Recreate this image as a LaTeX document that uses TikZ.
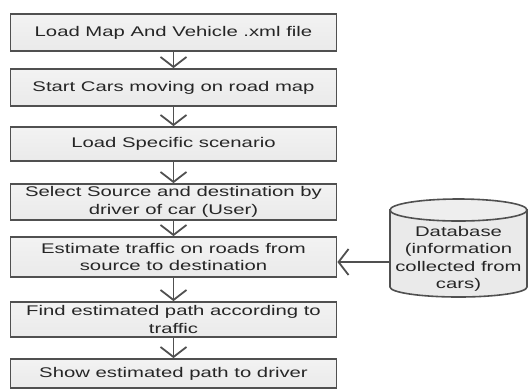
\documentclass[tikz,border=0pt]{standalone}
\usepackage{fontspec}
\setmainfont[FakeStretch=1.45]{Liberation Sans}
\usetikzlibrary{arrows.meta}
\definecolor{boxline}{HTML}{505050}
\definecolor{boxfill}{HTML}{EAEAEA}
\definecolor{txt}{HTML}{262626}
\begin{document}
\begin{tikzpicture}[x=1pt,y=-1pt,
  stepbox/.style={draw=boxline, line width=1.8pt, top color=boxfill!60, bottom color=boxfill, rectangle,
    minimum width=326pt, inner sep=0pt, align=center, text=txt,
    font=\fontsize{14pt}{17.5pt}\selectfont},
  flow/.style={draw=boxline, line width=1.8pt, -{Straight Barb[length=10pt, width=26pt, line width=1.8pt]}}
]
\useasboundingbox (0,0) rectangle (529,389);
\node[stepbox, minimum height=37pt] (b1) at (173.5,32.5) {Load Map And Vehicle .xml file};
\node[stepbox, minimum height=37pt] (b2) at (173.5,87.5) {Start Cars moving on road map};
\node[stepbox, minimum height=34pt] (b3) at (173.5,144) {Load Specific scenario};
\node[stepbox, minimum height=36pt] (b4) at (173.5,202) {Select Source and destination by\\driver of car (User)};
\node[stepbox, minimum height=40pt] (b5) at (173.5,257) {Estimate traffic on roads from\\source to destination};
\node[stepbox, minimum height=35pt] (b6) at (173.5,319.5) {Find estimated path according to\\traffic};
\node[stepbox, minimum height=29pt] (b7) at (173.5,373.5) {Show estimated path to driver};
\draw[flow] (b1) -- (b2);
\draw[flow] (b2) -- (b3);
\draw[flow] (b3) -- (b4);
\draw[flow] (b4) -- (b5);
\draw[flow] (b5) -- (b6);
\draw[flow] (b6) -- (b7);
% database cylinder
\draw[draw=boxline, line width=1.6pt, fill=boxfill] (390,210) -- (390,287)
  arc[start angle=180, end angle=0, x radius=68.5, y radius=10] -- (527,210) -- cycle;
\draw[draw=boxline, line width=1.6pt, fill=boxfill!80] (458.5,210) ellipse[x radius=68.5, y radius=11];
\node[align=center, text=txt, inner sep=0pt, font=\fontsize{14pt}{17.5pt}\selectfont] (db) at (458.5,259)
  {Database\\(information\\collected from\\cars)};
\coordinate (dbin) at (390,262);
\draw[flow] (dbin) -- (dbin -| b5.east);
\end{tikzpicture}
\end{document}
